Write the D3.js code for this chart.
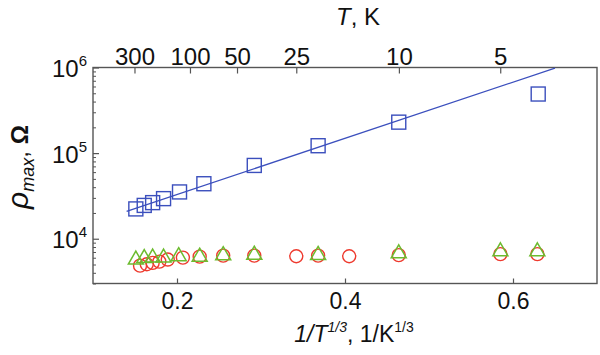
<!DOCTYPE html>
<html><head><meta charset="utf-8">
<script src="https://cdn.jsdelivr.net/npm/d3@7"></script>
<style>
html,body{margin:0;padding:0;background:#fff;}
svg{display:block;font-family:"Liberation Sans",Arial,sans-serif;}
</style></head><body>
<svg id="c" width="600" height="355"></svg>
<script>
// ---- data ----
const squareX = [0.151, 0.161, 0.171, 0.184, 0.203, 0.232, 0.292, 0.368, 0.464, 0.630];
const squareY = [22300, 24500, 26400, 29400, 35200, 43900, 71800, 122000, 230000, 490000];
const circleX = [0.156, 0.164, 0.171, 0.179, 0.189, 0.207, 0.227, 0.255, 0.292, 0.342, 0.368, 0.405, 0.464, 0.585, 0.629];
const circleY = [4850, 5030, 5220, 5410, 5710, 6020, 6180, 6350, 6350, 6240, 6350, 6240, 6440, 6610, 6610];
const triX = [0.151, 0.161, 0.171, 0.184, 0.202, 0.227, 0.255, 0.292, 0.368, 0.464, 0.585, 0.629];
const triY = [6020, 6270, 6350, 6350, 6610, 6520, 6790, 6880, 6830, 7130, 7520, 7520];
const fitX = [0.140, 0.650];
const fitY = [20900, 984000];
const bottomTicks = [0.2, 0.4, 0.6];
const bottomTickLabels = ["0.2", "0.4", "0.6"];
const topTicksT = [300, 100, 50, 25, 10, 5];
const topTickLabels = ["300", "100", "50", "25", "10", "5"];
const leftMajor = [1e4, 1e5, 1e6];
const leftMajorExp = ["4", "5", "6"];

// ---- layout ----
const L = 93, R = 597, T = 67.5, B = 283.5;
const svg = d3.select("#c");
const x = d3.scaleLinear().domain([0.1, 0.7]).range([L, R]);
const y = d3.scaleLog().domain([3000, 1e6]).range([B, T]);
const frameCol = "#555";
const blue = "#3b4fbd", red = "#ee3a2e", green = "#6cbb2f";

// minor ticks for log axis
const leftMinor = [];
[1e3, 1e4, 1e5].forEach(d => { for (let k = 2; k <= 9; k++) { const v = d * k; if (v >= 3000 && v <= 1e6) leftMinor.push(v); } });

// bottom axis
const gb = svg.append("g").attr("transform", `translate(0,${B})`)
  .call(d3.axisBottom(x).tickValues(bottomTicks).tickSizeInner(-5).tickSizeOuter(0).tickPadding(9)
    .tickFormat((d, i) => bottomTickLabels[i]));
gb.select(".domain").remove();
gb.selectAll("line").attr("stroke", frameCol).attr("stroke-width", 1.2);
gb.selectAll("text").attr("font-size", 23).attr("fill", "#111").attr("dy", "0.71em");

// top axis (T in K, position at 1/T^(1/3))
const xTop = d3.scaleLinear().domain([0.1, 0.7]).range([L, R]);
const gt = svg.append("g").attr("transform", `translate(0,${T})`)
  .call(d3.axisTop(xTop).tickValues(topTicksT.map(t => Math.pow(t, -1 / 3))).tickSizeInner(-6).tickSizeOuter(0).tickPadding(3)
    .tickFormat((d, i) => topTickLabels[i]));
gt.select(".domain").remove();
gt.selectAll("line").attr("stroke", frameCol).attr("stroke-width", 1.2);
gt.selectAll("text").attr("font-size", 24).attr("fill", "#111").attr("dy", "0em");

// left axis minor
const glm = svg.append("g").attr("transform", `translate(${L},0)`)
  .call(d3.axisLeft(y).tickValues(leftMinor).tickSizeInner(-3).tickSizeOuter(0).tickFormat(""));
glm.select(".domain").remove();
glm.selectAll("line").attr("stroke", frameCol).attr("stroke-width", 1);
// left axis major
const gl = svg.append("g").attr("transform", `translate(${L},0)`)
  .call(d3.axisLeft(y).tickValues(leftMajor).tickSizeInner(-6).tickSizeOuter(0).tickPadding(6).tickFormat(""));
gl.select(".domain").remove();
gl.selectAll("line").attr("stroke", frameCol).attr("stroke-width", 1.2);
gl.selectAll(".tick").each(function (d, i) {
  const t = d3.select(this).append("text").attr("x", -6).attr("y", 9).attr("text-anchor", "end")
    .attr("fill", "#111").attr("font-size", 24);
  t.append("tspan").text("10");
  t.append("tspan").attr("font-size", 15).attr("dy", -11).text(leftMajorExp[i]);
});

// frame
svg.append("rect").attr("x", L).attr("y", T).attr("width", R - L).attr("height", B - T)
  .attr("fill", "none").attr("stroke", frameCol).attr("stroke-width", 1.4);

// fit line
svg.append("line").attr("x1", x(fitX[0])).attr("y1", y(fitY[0])).attr("x2", x(fitX[1])).attr("y2", y(fitY[1]))
  .attr("stroke", blue).attr("stroke-width", 1.3);

// circles
svg.append("g").selectAll("circle").data(circleX).join("circle")
  .attr("cx", (d) => x(d)).attr("cy", (d, i) => y(circleY[i])).attr("r", 6.5)
  .attr("fill", "none").attr("stroke", red).attr("stroke-width", 1.4);

// triangles
const tri = (cx, cy) => { const w = 7.5, h = 6.5; return `M${cx},${cy - h}L${cx + w},${cy + h}L${cx - w},${cy + h}Z`; };
svg.append("g").selectAll("path").data(triX).join("path")
  .attr("d", (d, i) => tri(x(d), y(triY[i])))
  .attr("fill", "none").attr("stroke", green).attr("stroke-width", 1.5).attr("stroke-linejoin", "miter");

// squares
svg.append("g").selectAll("rect").data(squareX).join("rect")
  .attr("x", d => x(d) - 7).attr("y", (d, i) => y(squareY[i]) - 7).attr("width", 14).attr("height", 14)
  .attr("fill", "none").attr("stroke", blue).attr("stroke-width", 1.4);

// top title
const tt = svg.append("text").attr("x", 358).attr("y", 25).attr("text-anchor", "middle").attr("font-size", 24).attr("fill", "#111");
tt.append("tspan").attr("font-style", "italic").text("T");
tt.append("tspan").text(", K");

// x label
const xl = svg.append("text").attr("x", 354).attr("y", 342).attr("text-anchor", "middle").attr("font-size", 23).attr("fill", "#111");
xl.append("tspan").attr("font-style", "italic").text("1/T");
xl.append("tspan").attr("font-style", "italic").attr("font-size", 14).attr("dy", -10).text("1/3");
xl.append("tspan").attr("dy", 10).text(", 1/K");
xl.append("tspan").attr("font-size", 14).attr("dy", -10).text("1/3");

// y label
const yl = svg.append("text").attr("transform", "translate(28,167) rotate(-90)").attr("text-anchor", "middle").attr("font-size", 24).attr("fill", "#111");
yl.append("tspan").attr("font-style", "italic").attr("font-size", 30).text("ρ");
yl.append("tspan").attr("font-style", "italic").attr("font-size", 18).attr("dy", 6).text("max");
yl.append("tspan").attr("dy", -6).text(", ");
yl.append("tspan").attr("font-weight", "bold").attr("font-size", 24).text("Ω");
</script>
</body></html>
